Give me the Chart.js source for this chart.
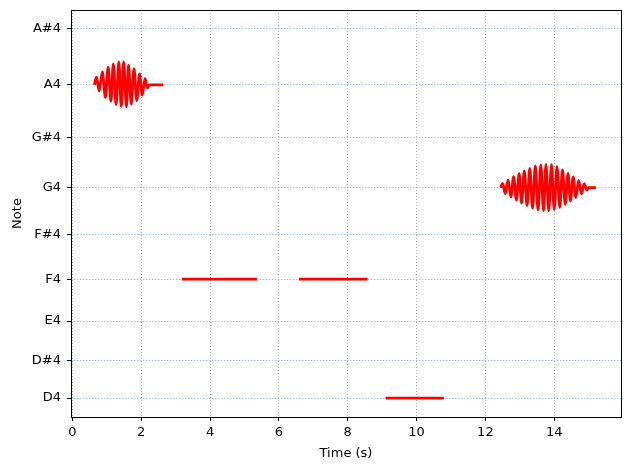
<!DOCTYPE html>
<html>
<head>
<meta charset="utf-8">
<script src="https://cdn.jsdelivr.net/npm/chart.js@4.4.0/dist/chart.umd.min.js"></script>
<style>
  html, body { margin: 0; padding: 0; background: #fff; }
  #wrap { width: 630px; height: 470px; }
</style>
</head>
<body>
<div id="wrap"><canvas id="myChart" width="630" height="470"></canvas></div>
<script>
// Notas del eje y (Hz)
const noteNames = ['D4', 'D#4', 'E4', 'F4', 'F#4', 'G4', 'G#4', 'A4', 'A#4'];
const noteFreqs = [293.66, 311.13, 329.63, 349.23, 369.99, 392.00, 415.30, 440.00, 466.16];
const timeTicks = [0, 2, 4, 6, 8, 10, 12, 14];

// Nota A4 con vibrato (tiempo en s, frecuencia en Hz)
const a4Times = [0.64, 0.70, 0.78, 0.87, 0.96, 1.04, 1.12, 1.19, 1.27, 1.35, 1.42, 1.49, 1.57, 1.63, 1.71, 1.79, 1.87, 1.95, 2.03, 2.11, 2.18, 2.23, 2.64];
const a4Hz = [440, 443.6, 437.1, 446.1, 434.2, 448.3, 432.4, 449.8, 430.8, 450.8, 430.0, 450.8, 429.7, 449.2, 431.1, 447.6, 432.7, 445.1, 435.2, 442.9, 438.6, 440, 440];

// Notas planas
const flatNotes = ['F4', 'F4', 'D4'];
const flatStart = [3.18, 6.58, 9.10];
const flatEnd = [5.36, 8.58, 10.79];

// Nota G4 con vibrato
const g4Times = [12.44, 12.50, 12.58, 12.66, 12.74, 12.82, 12.90, 12.98, 13.05, 13.13, 13.21, 13.29, 13.37, 13.45, 13.53, 13.61, 13.69,
                 13.76, 13.84, 13.92, 14.00, 14.08, 14.16, 14.24, 14.32, 14.40, 14.47, 14.55, 14.63, 14.71, 14.79, 14.87, 14.95, 15.00, 15.21];
const g4Hz = [392, 394.0, 389.2, 395.6, 387.6, 397.1, 386.2, 398.5, 384.8, 399.8, 383.6, 401.0, 382.4, 402.1, 381.6, 402.6, 381.2,
              402.9, 381.2, 402.7, 381.8, 401.8, 382.8, 400.3, 384.2, 398.6, 385.8, 397.0, 387.4, 395.4, 389.1, 393.8, 390.8, 392, 392];

function freqOf(name) {
  return noteFreqs[noteNames.indexOf(name)];
}

function puntos(ts, fs) {
  return ts.map((t, i) => ({ x: t, y: fs[i] }));
}

const series = [puntos(a4Times, a4Hz)];
flatNotes.forEach((n, i) => {
  series.push([{ x: flatStart[i], y: freqOf(n) }, { x: flatEnd[i], y: freqOf(n) }]);
});
series.push(puntos(g4Times, g4Hz));

const datasets = series.map(d => ({
  data: d,
  borderColor: '#ff0000',
  borderWidth: 2.8,
  pointRadius: 0,
  cubicInterpolationMode: 'monotone',
  fill: false
}));

const fuente = { family: 'DejaVu Sans', size: 13 };

// Marco negro alrededor del area
const marco = {
  id: 'marco',
  afterDatasetsDraw(chart) {
    const a = chart.chartArea;
    const ctx = chart.ctx;
    ctx.save();
    ctx.strokeStyle = '#000';
    ctx.lineWidth = 1;
    ctx.strokeRect(Math.round(a.left) + 0.5, Math.round(a.top) + 0.5, Math.round(a.right - a.left), Math.round(a.bottom - a.top));
    ctx.restore();
  }
};

const ctx = document.getElementById('myChart');
new Chart(ctx, {
  type: 'line',
  data: { datasets: datasets },
  plugins: [marco],
  options: {
    responsive: false,
    animation: false,
    layout: { padding: { top: 10, right: 9, left: 0, bottom: 0 } },
    plugins: { legend: { display: false }, tooltip: { enabled: false } },
    scales: {
      x: {
        type: 'linear',
        min: -0.04,
        max: 15.94,
        afterFit: s => { s.height = 53; s.paddingLeft = 0; s.paddingRight = 0; },
        afterBuildTicks: s => { s.ticks = timeTicks.map(v => ({ value: v })); },
        ticks: { color: '#000', font: fuente, padding: 4, maxRotation: 0, autoSkip: false },
        grid: {
          color: 'rgba(140,140,140,0.9)',
          lineWidth: 0.8,
          tickLength: 4,
          tickColor: '#000',
          tickWidth: 1,
          tickBorderDash: []
        },
        border: { display: false, dash: [1, 2] },
        title: { display: true, text: 'Time (s)', color: '#000', font: fuente, padding: { top: 0, bottom: 9 } }
      },
      y: {
        type: 'linear',
        min: 284.8,
        max: 475.0,
        afterFit: s => { s.width = 71; s.paddingTop = 0; s.paddingBottom = 0; },
        afterBuildTicks: s => { s.ticks = noteFreqs.map(v => ({ value: v })); },
        ticks: {
          color: '#000',
          font: fuente,
          padding: 6,
          autoSkip: false,
          callback: v => noteNames[noteFreqs.indexOf(v)]
        },
        grid: {
          color: 'rgba(70,130,180,0.6)',
          lineWidth: 0.8,
          tickLength: 4,
          tickColor: '#000',
          tickWidth: 1,
          tickBorderDash: []
        },
        border: { display: false, dash: [1.5, 1.5] },
        title: { display: true, text: 'Note', color: '#000', font: fuente, padding: { top: 10, bottom: 0 } }
      }
    }
  }
});
</script>
</body>
</html>
